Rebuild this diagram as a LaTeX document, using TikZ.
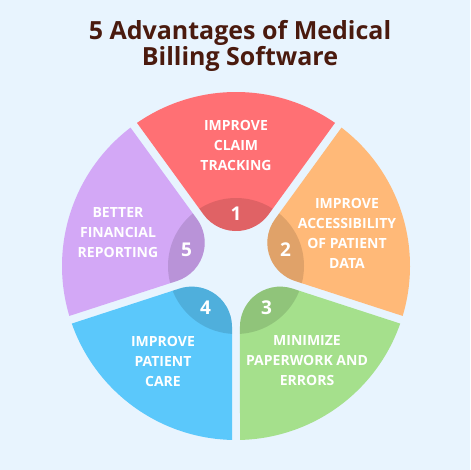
\documentclass[tikz,border=0pt]{standalone}
\usepackage{fontspec}
\setmainfont{Open Sans}
\usetikzlibrary{calc}
\definecolor{bg}{HTML}{E8F4FE}
\definecolor{titlecol}{HTML}{4A1A0E}
\definecolor{segred}{HTML}{FF7074}
\definecolor{segorange}{HTML}{FFB978}
\definecolor{seggreen}{HTML}{A5E08C}
\definecolor{segblue}{HTML}{5BC8FB}
\definecolor{segpurple}{HTML}{D3A8F6}
\newcommand\segshape[1]{($(C)+(#1-34.68:174)$) arc[start angle=#1-34.68, end angle=#1+34.68, radius=174] -- ($(C)+(#1+36:60.8)+(#1-54:4)$) arc[start angle=#1+126, end angle=#1+234, radius=40.2] -- cycle}
\begin{document}
\begin{tikzpicture}[x=1pt,y=1pt,
  seglabel/.style={text=white,font=\bfseries\fontsize{14}{20}\selectfont,align=center,inner sep=0pt},
  numlabel/.style={text=white,font=\bfseries\fontsize{19}{19}\selectfont,inner sep=0pt},
  titlelabel/.style={text=titlecol,font=\bfseries\fontsize{25}{26}\selectfont,anchor=base,inner sep=0pt}]
\fill[bg] (0,0) rectangle (470,470);
\useasboundingbox (0,0) rectangle (470,470);
\coordinate (C) at (236,204);
\node[titlelabel] (title1) at (240,430) {5 Advantages of Medical};
\node[titlelabel] (title2) at (240,404) {Billing Software};
\foreach \a/\col/\n in {90/segred/1, 18/segorange/2, -54/seggreen/3, -126/segblue/4, 162/segpurple/5}{
  \fill[\col] \segshape{\a};
  \begin{scope}
    \clip \segshape{\a};
    \fill[black,opacity=0.12] (C) circle (68);
  \end{scope}
  \node[numlabel] (n\n) at ($(C)+(\a:52)$) {\n};
}
\node[seglabel] (t1) at (236,325) {IMPROVE\\CLAIM\\TRACKING};
\node[seglabel] (t2) at (347,237) {IMPROVE\\ACCESSIBILITY\\OF PATIENT\\DATA};
\node[seglabel] (t3) at (307,109) {MINIMIZE\\PAPERWORK AND\\ERRORS};
\node[seglabel] (t4) at (163,109) {IMPROVE\\PATIENT\\CARE};
\node[seglabel] (t5) at (118,237) {BETTER\\FINANCIAL\\REPORTING};
\end{tikzpicture}
\end{document}
